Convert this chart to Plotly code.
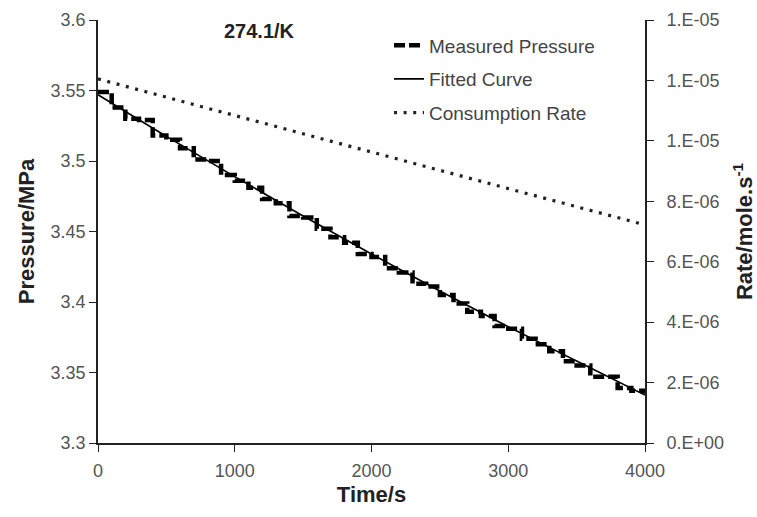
import plotly.graph_objects as go

# ---- data ----
time_measured = [0, 100, 200, 300, 400, 500, 600, 700, 800, 900, 1000,
                 1100, 1200, 1300, 1400, 1500, 1600, 1700, 1800, 1900, 2000,
                 2100, 2200, 2300, 2400, 2500, 2600, 2700, 2800, 2900, 3000,
                 3100, 3200, 3300, 3400, 3500, 3600, 3700, 3800, 3900, 4000]
pressure_measured = [3.549, 3.538, 3.530, 3.529, 3.518, 3.515, 3.509, 3.501, 3.500, 3.490, 3.486,
                     3.481, 3.473, 3.470, 3.461, 3.460, 3.452, 3.446, 3.442, 3.434, 3.432,
                     3.424, 3.421, 3.413, 3.411, 3.405, 3.399, 3.393, 3.390, 3.383, 3.381,
                     3.374, 3.370, 3.365, 3.358, 3.355, 3.347, 3.347, 3.339, 3.337, 3.335]

time_fit = [0, 500, 1000, 1500, 2000, 2500, 3000, 3500, 4000]
pressure_fit = [3.547, 3.5175, 3.4889, 3.4610, 3.4340, 3.4078, 3.3825, 3.3581, 3.334]

time_rate = [0, 1000, 2000, 3000, 4000]
rate = [1.205e-5, 1.085e-5, 9.63e-6, 8.42e-6, 7.22e-6]

rate_tickvals = [0, 2e-6, 4e-6, 6e-6, 8e-6, 1.0e-5, 1.2e-5, 1.4e-5]
rate_ticktext = ["0.E+00", "2.E-06", "4.E-06", "6.E-06", "8.E-06", "1.E-05", "1.E-05", "1.E-05"]

FONT = "Liberation Sans, Arial, sans-serif"

fig = go.Figure()
fig.add_trace(go.Scatter(
    x=time_measured, y=pressure_measured, mode="lines", name="Measured Pressure",
    line=dict(color="black", width=4.5, dash="11px,4px", shape="hv"),
    legendgroup="a"))
fig.add_trace(go.Scatter(
    x=time_fit, y=pressure_fit, mode="lines", name="Fitted Curve",
    line=dict(color="black", width=1.6, shape="spline"),
    legendgroup="b"))
fig.add_trace(go.Scatter(
    x=time_rate, y=rate, mode="lines", name="Consumption Rate", yaxis="y2",
    line=dict(color="#222", width=3.2, dash="3px,6.6px"),
    legendgroup="c"))

axis_common = dict(showline=True, linecolor="#222", linewidth=1.6, ticks="outside",
                   ticklen=7, tickcolor="#222", tickwidth=1.4, showgrid=False, zeroline=False,
                   automargin=False,
                   tickfont=dict(family=FONT, size=18, color="#555"))

fig.update_layout(
    width=757, height=517,
    margin=dict(l=98, r=112, t=20, b=74),
    plot_bgcolor="white", paper_bgcolor="white",
    font=dict(family=FONT),
    xaxis=dict(range=[0, 4000], dtick=1000, tick0=0, ticklabelstandoff=4,
               title=dict(text="<b>Time/s</b>", font=dict(family=FONT, size=22, color="#222"), standoff=6),
               **axis_common),
    yaxis=dict(range=[3.3, 3.6], dtick=0.05, tick0=3.3,
               title=dict(text="<b>Pressure/MPa</b>", font=dict(family=FONT, size=22, color="#222"), standoff=10),
               **axis_common),
    yaxis2=dict(range=[0, 1.4e-5], overlaying="y", side="right", ticklabelstandoff=9,
                tickvals=rate_tickvals, ticktext=rate_ticktext,
                title=dict(text="<b>Rate/mole.s<sup>-1</sup></b>", font=dict(family=FONT, size=22, color="#222"), standoff=14),
                **axis_common),
    legend=dict(x=0.532, y=0.985, xanchor="left", yanchor="top", bgcolor="rgba(0,0,0,0)",
                font=dict(family=FONT, size=19, color="#444"), tracegroupgap=6,
                traceorder="grouped"),
    annotations=[dict(text="<b>274.1/K</b>", x=0.295, y=0.975, xref="paper", yref="paper",
                      xanchor="center", yanchor="middle", showarrow=False,
                      font=dict(family=FONT, size=20, color="#222"))],
)

fig.write_html("out.html")
